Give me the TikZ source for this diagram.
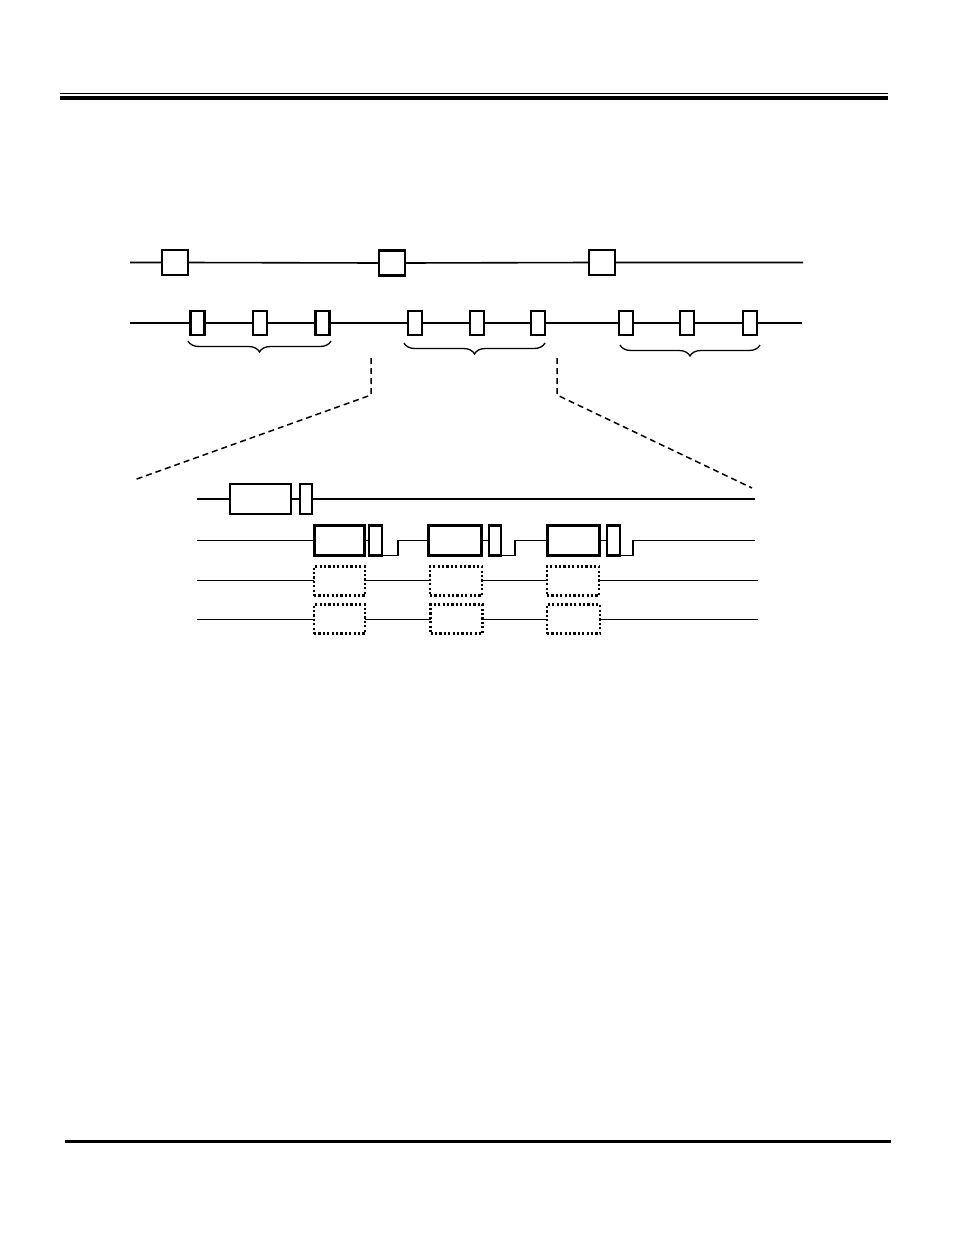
\documentclass[tikz,border=0pt]{standalone}
\usetikzlibrary{decorations.pathreplacing}
\begin{document}
\begin{tikzpicture}[x=1pt,y=-1pt,
  wire/.style={line width=1.6pt},
  bigbox/.style={draw,line width=2.2pt,inner sep=0pt,outer sep=0pt,fill=white},
  slotbox/.style={draw,line width=2.2pt,inner sep=0pt,outer sep=0pt,minimum width=14pt,minimum height=24pt},
  frame/.style={draw,line width=3pt,inner sep=0pt,outer sep=0pt,minimum height=30pt},
  tag/.style={draw,line width=2.4pt,inner sep=0pt,outer sep=0pt,minimum height=30pt},
  ghost/.style={draw,line width=2.4pt,dash pattern=on 2.2pt off 2.2pt,inner sep=0pt,outer sep=0pt,minimum height=29pt},
  zoomline/.style={line width=1.5pt,dash pattern=on 6pt off 4pt},
  bracestyle/.style={line width=1.3pt,decorate,decoration={brace,mirror,amplitude=11pt}}]
\useasboundingbox (0,0) rectangle (954,1235);
% header and footer rules
\draw[line width=1.4pt] (60,93.3) -- (888,93.3);
\draw[line width=4.6pt] (60,97.8) -- (888,97.8);
\draw[line width=2.6pt] (65,1141.5) -- (891,1141.5);

% row A
\coordinate (a0) at (130,262.5);
\coordinate (a4) at (803,262.5);
\node[bigbox,minimum width=26pt,minimum height=25pt] (a1) at (175,262.5) {};
\node[bigbox,minimum width=26pt,minimum height=25pt] (a2) at (392,263) {};
\node[bigbox,minimum width=26pt,minimum height=25pt] (a3) at (602,262.5) {};
\draw[wire] (a0) -- (a1.west) (a1.east) -- (a2.west) (a2.east) -- (a3.west) (a3.east) -- (a4);

% row B
\coordinate (b0) at (130,323);
\coordinate (b10) at (802,323);
\foreach \n/\x in {1/197.5,2/260,3/322.5,4/415,5/477,6/538,7/626,8/687,9/750}{
  \node[slotbox] (b\n) at (\x,323) {};
}
\draw[wire] (b0) -- (b1.west);
\foreach \i/\j in {1/2,2/3,3/4,4/5,5/6,6/7,7/8,8/9}{
  \draw[wire] (b\i.east) -- (b\j.west);
}
\draw[wire] (b9.east) -- (b10);

% braces
\coordinate (br1a) at (188,341); \coordinate (br1b) at (331,341);
\coordinate (br2a) at (404,343); \coordinate (br2b) at (545,343);
\coordinate (br3a) at (620,345); \coordinate (br3b) at (760,345);
\draw[bracestyle] (br1a) -- (br1b);
\draw[bracestyle] (br2a) -- (br2b);
\draw[bracestyle] (br3a) -- (br3b);

% zoom dashed lines
\coordinate (zl1) at (371,358); \coordinate (zl2) at (371,395); \coordinate (zl3) at (134,480);
\coordinate (zr1) at (557,358); \coordinate (zr2) at (557,395); \coordinate (zr3) at (752,488);
\draw[zoomline] (zl1) -- (zl2) -- (zl3);
\draw[zoomline] (zr1) -- (zr2) -- (zr3);

% lower row 1
\coordinate (r1s) at (197,499);
\coordinate (r1e) at (755,499);
\node[tag,minimum width=61pt] (r1big) at (260.5,499) {};
\node[tag,minimum width=12pt] (r1small) at (306,499) {};
\draw[wire] (r1s) -- (r1big.west) (r1big.east) -- (r1small.west) (r1small.east) -- (r1e);

% lower row 2
\coordinate (r2s) at (197,540.5);
\coordinate (r2e) at (755,540.5);
\node[frame,minimum width=50pt] (f1) at (339,540.5) {};
\node[frame,minimum width=53pt] (f2) at (454.5,540.5) {};
\node[frame,minimum width=52pt] (f3) at (573,540.5) {};
\node[tag,minimum width=13pt] (s1) at (375.5,540.5) {};
\node[tag,minimum width=12pt] (s2) at (495,540.5) {};
\node[tag,minimum width=13pt] (s3) at (613.5,540.5) {};
\coordinate (k1a) at (398,555.5); \coordinate (k1b) at (398,540.5);
\coordinate (k2a) at (515,555.5); \coordinate (k2b) at (515,540.5);
\coordinate (k3a) at (633,555.5); \coordinate (k3b) at (633,540.5);
\draw[wire] (r2s) -- (f1.west) (f1.east) -- (s1.west);
\draw[wire] (s1.south east) -- (k1a) -- (k1b) -- (f2.west);
\draw[wire] (f2.east) -- (s2.west);
\draw[wire] (s2.south east) -- (k2a) -- (k2b) -- (f3.west);
\draw[wire] (f3.east) -- (s3.west);
\draw[wire] (s3.south east) -- (k3a) -- (k3b) -- (r2e);

% lower row 3
\coordinate (r3s) at (197,580.5);
\coordinate (r3e) at (758,580.5);
\node[ghost,minimum width=51pt] (g1) at (339.5,581) {};
\node[ghost,minimum width=52pt] (g2) at (456,581) {};
\node[ghost,minimum width=52pt] (g3) at (573,581) {};
\draw[wire] (r3s) -- (g1.west|-r3s) (g1.east|-r3s) -- (g2.west|-r3s) (g2.east|-r3s) -- (g3.west|-r3s) (g3.east|-r3s) -- (r3e);

% lower row 4
\coordinate (r4s) at (197,619.5);
\coordinate (r4e) at (758,619.5);
\node[ghost,minimum width=51pt] (h1) at (339.5,619) {};
\node[ghost,minimum width=52pt] (h2) at (456.5,619) {};
\node[ghost,minimum width=53pt] (h3) at (573.5,619) {};
\draw[wire] (r4s) -- (h1.west|-r4s) (h1.east|-r4s) -- (h2.west|-r4s) (h2.east|-r4s) -- (h3.west|-r4s) (h3.east|-r4s) -- (r4e);
\end{tikzpicture}
\end{document}
